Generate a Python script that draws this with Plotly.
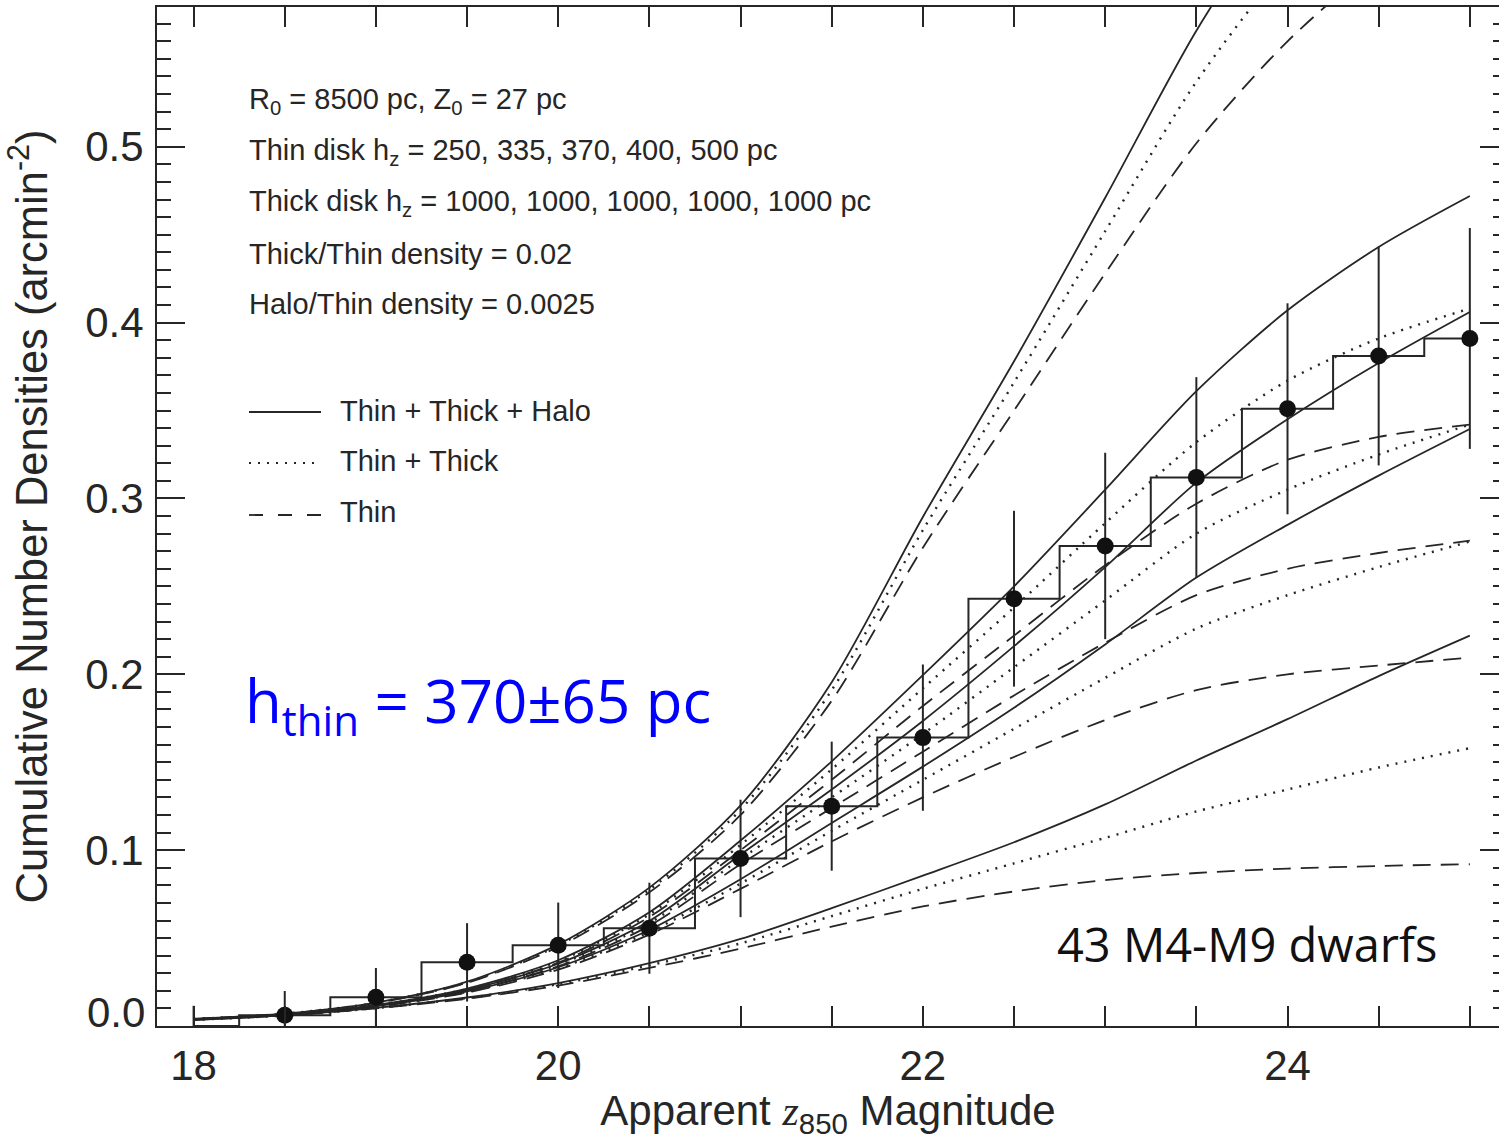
import plotly.graph_objects as go

# ---------------- data ----------------
mag_grid = [18.0, 18.5, 19.0, 19.5, 20.0, 20.5, 21.0, 21.5, 22.0, 22.5, 23.0, 23.5, 24.0, 24.5, 25.0]

# model curves (cumulative number density, arcmin^-2), thin-disk scale heights 250..500 pc
thin_250 = [0.0035, 0.0060, 0.0100, 0.0155, 0.0230, 0.0330, 0.0440, 0.0565, 0.0680, 0.0765, 0.0830, 0.0870, 0.0895, 0.0910, 0.0920]
thick_250 = [0.0035, 0.0060, 0.0102, 0.0159, 0.0238, 0.0345, 0.0470, 0.0625, 0.0780, 0.0925, 0.1070, 0.1220, 0.1345, 0.1470, 0.1580]
halo_250 = [0.0035, 0.0060, 0.0103, 0.0162, 0.0244, 0.0357, 0.0495, 0.0670, 0.0855, 0.1045, 0.1260, 0.1510, 0.1745, 0.1990, 0.2220]

thin_335 = [0.0037, 0.0064, 0.0110, 0.0190, 0.0320, 0.0520, 0.0780, 0.1050, 0.1300, 0.1530, 0.1740, 0.1910, 0.2000, 0.2050, 0.2095]
thick_335 = [0.0037, 0.0064, 0.0112, 0.0194, 0.0328, 0.0535, 0.0810, 0.1110, 0.1400, 0.1690, 0.1980, 0.2260, 0.2450, 0.2610, 0.2755]
halo_335 = [0.0037, 0.0064, 0.0113, 0.0197, 0.0334, 0.0547, 0.0835, 0.1155, 0.1475, 0.1810, 0.2170, 0.2550, 0.2850, 0.3130, 0.3395]

thin_370 = [0.0038, 0.0065, 0.0113, 0.0198, 0.0340, 0.0570, 0.0920, 0.1240, 0.1560, 0.1880, 0.2180, 0.2450, 0.2600, 0.2690, 0.2760]
thick_370 = [0.0038, 0.0065, 0.0115, 0.0202, 0.0348, 0.0585, 0.0950, 0.1300, 0.1660, 0.2040, 0.2420, 0.2800, 0.3050, 0.3250, 0.3420]
halo_370 = [0.0038, 0.0065, 0.0116, 0.0205, 0.0354, 0.0597, 0.0975, 0.1345, 0.1735, 0.2160, 0.2610, 0.3090, 0.3450, 0.3770, 0.4060]

thin_400 = [0.0039, 0.0067, 0.0117, 0.0206, 0.0360, 0.0620, 0.1000, 0.1400, 0.1820, 0.2220, 0.2620, 0.2970, 0.3220, 0.3350, 0.3420]
thick_400 = [0.0039, 0.0067, 0.0119, 0.0210, 0.0368, 0.0635, 0.1030, 0.1460, 0.1920, 0.2380, 0.2860, 0.3320, 0.3670, 0.3910, 0.4080]
halo_400 = [0.0039, 0.0067, 0.0120, 0.0213, 0.0374, 0.0647, 0.1055, 0.1505, 0.1995, 0.2500, 0.3050, 0.3610, 0.4070, 0.4430, 0.4720]

thin_500 = [0.0040, 0.0070, 0.0130, 0.0245, 0.0450, 0.0760, 0.1200, 0.1850, 0.2720, 0.3500, 0.4280, 0.5020, 0.5600, 0.6050, 0.6400]
thick_500 = [0.0040, 0.0070, 0.0132, 0.0249, 0.0458, 0.0775, 0.1230, 0.1910, 0.2820, 0.3660, 0.4520, 0.5370, 0.6050, 0.6610, 0.7060]
halo_500 = [0.0040, 0.0070, 0.0133, 0.0252, 0.0464, 0.0787, 0.1255, 0.1955, 0.2895, 0.3780, 0.4710, 0.5660, 0.6450, 0.7130, 0.7700]

# observed cumulative densities (43 M4-M9 dwarfs)
obs_mag = [18.0, 18.5, 19.0, 19.5, 20.0, 20.5, 21.0, 21.5, 22.0, 22.5, 23.0, 23.5, 24.0, 24.5, 25.0]
obs_dens = [0.0, 0.0061, 0.0163, 0.0362, 0.0459, 0.0556, 0.0953, 0.125, 0.164, 0.243, 0.273, 0.312, 0.351, 0.381, 0.391]
obs_err = [0.0115, 0.0138, 0.0167, 0.0223, 0.0243, 0.0259, 0.0334, 0.0367, 0.0416, 0.050, 0.053, 0.057, 0.060, 0.0622, 0.0628]

x_ticks = [18, 20, 22, 24]
y_ticks = [0.1, 0.2, 0.3, 0.4, 0.5]
y_ticktext = ["0.1", "0.2", "0.3", "0.4", "0.5"]

info_lines = [
    "R<sub>0</sub> = 8500 pc, Z<sub>0</sub> = 27 pc",
    "Thin disk h<sub>z</sub> = 250, 335, 370, 400, 500 pc",
    "Thick disk h<sub>z</sub> = 1000, 1000, 1000, 1000, 1000 pc",
    "Thick/Thin density = 0.02",
    "Halo/Thin density = 0.0025",
]
legend_labels = ["Thin + Thick + Halo", "Thin + Thick", "Thin"]

# ---------------- styling ----------------
INK = "#262626"
W, H = 1499, 1140
L, R, T, B = 157, 0, 7, 114
pw, ph = W - L - R, H - T - B
DOT = "2px,7px"
DASH = "18px,10px"
FONT = "Liberation Sans"


def px_x(p):
    return (p - L) / pw


def px_y(p):
    return (H - B - p) / ph


fig = go.Figure()

groups = [
    (thin_250, thick_250, halo_250),
    (thin_335, thick_335, halo_335),
    (thin_370, thick_370, halo_370),
    (thin_400, thick_400, halo_400),
    (thin_500, thick_500, halo_500),
]
for thin, thick, halo in groups:
    for ys, dash, lw in ((thin, DASH, 1.8), (thick, DOT, 2.4), (halo, "solid", 1.8)):
        fig.add_trace(go.Scatter(
            x=mag_grid, y=ys, mode="lines",
            line=dict(color=INK, width=lw, dash=dash, shape="spline", smoothing=0.8),
            hoverinfo="skip", showlegend=False))

# histogram of cumulative counts
fig.add_trace(go.Scatter(
    x=obs_mag, y=obs_dens, mode="lines",
    line=dict(color=INK, width=2, shape="hvh"), showlegend=False))

# data points with error bars
fig.add_trace(go.Scatter(
    x=obs_mag, y=obs_dens, mode="markers",
    marker=dict(color="#111111", opacity=1, size=[0] + [17] * (len(obs_mag) - 1),
                line=dict(width=0)),
    error_y=dict(type="data", array=obs_err, color=INK, thickness=2, width=0),
    showlegend=False))

# empty trace that carries the right-hand tick axis
fig.add_trace(go.Scatter(x=[], y=[], yaxis="y2", showlegend=False))

fig.update_layout(
    width=W, height=H,
    margin=dict(l=L, r=R, t=T, b=B),
    paper_bgcolor="white", plot_bgcolor="white",
    font=dict(family=FONT, color=INK),
    xaxis=dict(
        range=[17.7993, 25.16], showgrid=False, zeroline=False,
        showline=True, linecolor=INK, linewidth=2, mirror="allticks",
        ticks="inside", ticklen=20, tickwidth=2, tickcolor=INK,
        tickvals=x_ticks, ticktext=[str(v) for v in x_ticks],
        tickfont=dict(size=42, family=FONT, color=INK),
        ticklabelstandoff=2,
        minor=dict(dtick=0.5, tick0=18, ticks="inside", ticklen=10, tickwidth=2, tickcolor=INK, showgrid=False),
        title=dict(text="Apparent <span style='font-family:Liberation Serif'><i>z</i></span><sub>850</sub> Magnitude",
                   font=dict(size=42, family=FONT, color=INK), standoff=18),
    ),
    yaxis=dict(
        range=[0, 0.5795], showgrid=False, zeroline=False,
        showline=True, linecolor=INK, linewidth=2,
        ticks="inside", ticklen=28, tickwidth=2, tickcolor=INK,
        tickvals=y_ticks, ticktext=y_ticktext,
        tickfont=dict(size=42, family=FONT, color=INK),
        ticklabelstandoff=3,
        minor=dict(dtick=0.01, tick0=0, ticks="inside", ticklen=14, tickwidth=2, tickcolor=INK, showgrid=False),
        title=dict(text="Cumulative Number Densities (arcmin<sup>-2</sup>)",
                   font=dict(size=43.5, family=FONT, color=INK), standoff=24),
    ),
    yaxis2=dict(
        range=[0, 0.5795], overlaying="y", side="right", anchor="x",
        showgrid=False, zeroline=False, showline=False, showticklabels=False,
        ticks="inside", ticklen=19, tickwidth=2, tickcolor=INK,
        tickvals=[0.0] + y_ticks,
        minor=dict(dtick=0.01, tick0=0, ticks="inside", ticklen=6, tickwidth=2, tickcolor=INK, showgrid=False),
    ),
)

annotations = []
# "0.0" label sits a little above the axis
annotations.append(dict(text="0.0", xref="paper", yref="y", x=0, y=0.0074, xanchor="right", yanchor="middle",
                        xshift=-10, showarrow=False, font=dict(size=42, family=FONT, color=INK)))

info_y = [101, 152, 203, 254, 304]
for txt, py in zip(info_lines, info_y):
    annotations.append(dict(text=txt, xref="paper", yref="paper", x=px_x(247), y=px_y(py),
                            xanchor="left", yanchor="middle", showarrow=False,
                            font=dict(size=29, family=FONT, color=INK)))

leg_y = [411, 461, 512]
for txt, py in zip(legend_labels, leg_y):
    annotations.append(dict(text=txt, xref="paper", yref="paper", x=px_x(338), y=px_y(py),
                            xanchor="left", yanchor="middle", showarrow=False,
                            font=dict(size=29, family=FONT, color=INK)))

annotations.append(dict(text="h<sub>thin</sub> = 370±65 pc", xref="paper", yref="paper",
                        x=px_x(243), y=px_y(703), xanchor="left", yanchor="middle", showarrow=False,
                        font=dict(size=60, family="Open Sans", color="#0000ff")))
annotations.append(dict(text="43 M4-M9 dwarfs", xref="paper", yref="paper",
                        x=px_x(1055), y=px_y(944), xanchor="left", yanchor="middle", showarrow=False,
                        font=dict(size=47, family="Open Sans", color="#111111")))
fig.update_layout(annotations=annotations)

shapes = []
for py, dash in zip([412, 463, 515], ["solid", DOT, "14px,15px"]):
    shapes.append(dict(type="line", xref="paper", yref="paper", x0=px_x(249), x1=px_x(321),
                       y0=px_y(py), y1=px_y(py), line=dict(color=INK, width=1.8, dash=dash)))
fig.update_layout(shapes=shapes)

fig.write_html("out.html")
